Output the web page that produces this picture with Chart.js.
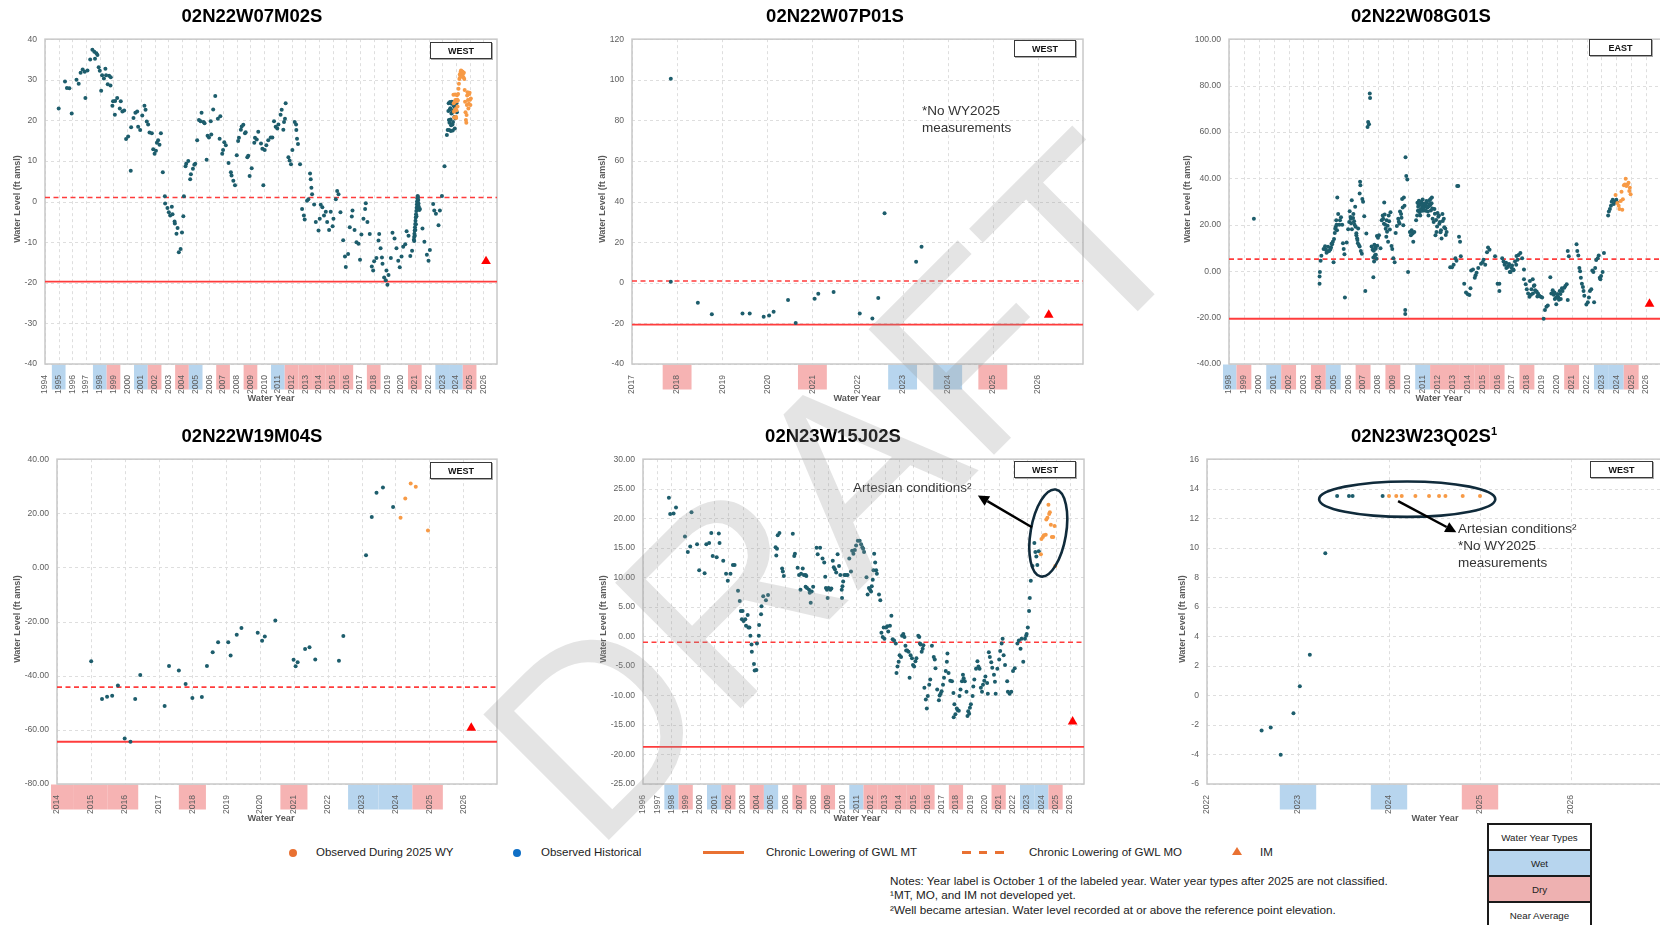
<!DOCTYPE html>
<html><head><meta charset="utf-8">
<script src="https://cdn.jsdelivr.net/npm/chart.js@4.4.1/dist/chart.umd.min.js"></script>
<style>
html,body{margin:0;padding:0;width:1660px;height:925px;overflow:hidden;background:#fff;font-family:"Liberation Sans",Arial,sans-serif;}
canvas{position:absolute;}
.t{position:absolute;white-space:nowrap;}
.title{font-weight:bold;font-size:18.5px;color:#000;transform:translate(-50%,-50%);}
.ytitle{font-weight:bold;font-size:9px;color:#595959;transform:translate(-50%,-50%) rotate(-90deg);}
.xtitle{font-weight:bold;font-size:9.2px;color:#595959;transform:translate(-50%,-50%);}
.region{position:absolute;border:1.5px solid #383838;box-shadow:1px 1px 0 #a8a8a8;font-weight:bold;font-size:9px;display:flex;align-items:center;justify-content:center;box-sizing:border-box;background:#fff;color:#111;}
.ann{font-size:13.5px;color:#333;transform:translateY(-50%);}
.lg{font-size:11.5px;color:#222;transform:translateY(-50%);}
.note{font-size:11.7px;color:#222;transform:translateY(-50%);}
.cell{position:absolute;box-sizing:border-box;border:2px solid #1a1a1a;display:flex;align-items:center;justify-content:center;font-size:9.75px;color:#222;}
</style></head><body>
<script>
// ---------- water year types ----------
const WET_YEARS = [1995,1998,2001,2005,2011,2023,2024];
const DRY_YEARS = [1999,2002,2004,2007,2009,2012,2013,2014,2015,2016,2018,2021,2025];

// ---------- 02N22W07M02S ----------
const c1XTicks = [1994,1995,1996,1997,1998,1999,2000,2001,2002,2003,2004,2005,2006,2007,2008,2009,2010,2011,2012,2013,2014,2015,2016,2017,2018,2019,2020,2021,2022,2023,2024,2025,2026];
const c1YTicks = [-40,-30,-20,-10,0,10,20,30,40];
const c1MT = -19.7, c1MO = 1.0, c1IM = [2026.2,-14.7];
const c1Hist = [[1995.0,22.9],[1995.46,29.6],[1995.6,28],[1995.78,27.9],[1995.95,21.7],[1996.3,30],[1996.46,29],[1996.6,31.7],[1996.75,32.5],[1996.9,32],[1996.95,25.5],[1997.1,32.3],[1997.3,35],[1997.46,37.4],[1997.6,36.9],[1997.65,35.2],[1997.75,36.5],[1997.83,36.1],[1997.92,33.1],[1998.0,32.2],[1998.1,27.3],[1998.17,31.1],[1998.3,30.3],[1998.41,32.7],[1998.46,31.1],[1998.58,28.9],[1998.68,31],[1998.78,28.6],[1998.8,30.6],[1998.92,23.6],[1998.97,24.7],[1999.1,21.4],[1999.12,24.8],[1999.27,25.5],[1999.46,22.9],[1999.53,24.7],[1999.65,22.2],[1999.78,22.4],[1999.92,15.4],[2000.07,16],[2000.26,7.6],[2000.29,18.3],[2000.46,20.6],[2000.6,21.9],[2000.73,22.2],[2000.8,18.4],[2000.95,17.6],[2001.1,21.2],[2001.26,23.6],[2001.34,22.6],[2001.43,19.7],[2001.53,19],[2001.63,17],[2001.8,16.8],[2001.9,12.9],[2002.0,11.8],[2002.1,12.5],[2002.17,14.5],[2002.26,15.1],[2002.36,14],[2002.46,16.8],[2002.6,7.2],[2002.75,1.3],[2002.77,-0.5],[2002.94,-1.6],[2003.04,-2.6],[2003.14,-3.4],[2003.26,-1.3],[2003.31,-3.1],[2003.46,-4.9],[2003.48,-5.4],[2003.6,-7.9],[2003.68,-6.5],[2003.77,-12.5],[2003.9,-11.7],[2004.0,-7.6],[2004.1,-3.6],[2004.14,1.3],[2004.26,8.7],[2004.31,9.3],[2004.46,10],[2004.6,5.5],[2004.65,6.7],[2004.8,8.1],[2004.9,9.1],[2004.97,9.3],[2005.11,15.1],[2005.24,20.1],[2005.36,19.8],[2005.43,21.9],[2005.58,19.6],[2005.65,19.3],[2005.8,10.3],[2005.87,16.2],[2005.97,15.8],[2006.1,19.8],[2006.14,16.5],[2006.28,22.7],[2006.43,26],[2006.62,20.4],[2006.8,21],[2006.75,15.5],[2006.94,11.8],[2007.0,12.7],[2007.09,14.6],[2007.2,13.9],[2007.4,9.5],[2007.57,7.2],[2007.62,6.4],[2007.75,5.1],[2007.87,4],[2008.0,11.4],[2008.1,14.9],[2008.16,15.7],[2008.3,17.7],[2008.36,18.5],[2008.48,18.9],[2008.6,16.8],[2008.65,17.1],[2008.77,10.9],[2008.84,11.3],[2008.94,6.3],[2009.09,8.2],[2009.28,14.5],[2009.33,15.7],[2009.46,15.3],[2009.57,17.2],[2009.77,14.3],[2009.87,13],[2009.94,4],[2010.04,12.7],[2010.16,13.9],[2010.3,15.1],[2010.48,15.8],[2010.6,15.8],[2010.72,19.8],[2010.84,18.4],[2010.96,18],[2011.04,19],[2011.2,21.4],[2011.28,22.6],[2011.4,17.7],[2011.45,19.6],[2011.52,20.4],[2011.57,24.2],[2011.77,10.9],[2011.86,10.1],[2011.96,9.2],[2012.06,12.7],[2012.23,19.6],[2012.33,19],[2012.35,17.6],[2012.4,15.5],[2012.47,14.2],[2012.62,9.2],[2012.77,-1.8],[2012.9,-3.4],[2012.96,-4.4],[2013.13,0.2],[2013.23,0.6],[2013.35,6.9],[2013.4,5.5],[2013.45,3.4],[2013.5,1.8],[2013.65,-0.7],[2013.77,-5],[2013.97,-7.1],[2014.06,-4.2],[2014.13,-0.8],[2014.25,-1.4],[2014.37,-3.4],[2014.5,-2.5],[2014.6,-5],[2014.74,-7],[2014.86,-2.5],[2015.0,-6.1],[2015.06,-4.2],[2015.23,0.6],[2015.33,2.6],[2015.43,1.8],[2015.57,-2.6],[2015.77,-9.5],[2015.9,-13.5],[2015.96,-16.1],[2016.13,-12.9],[2016.25,-6.3],[2016.4,-3.7],[2016.45,-2.2],[2016.6,-7],[2016.74,-10],[2016.89,-10.4],[2017.0,-14.3],[2017.1,-8.1],[2017.25,-4.2],[2017.37,-1.8],[2017.42,-0.4],[2017.54,-5],[2017.71,-8],[2017.86,-16],[2017.96,-17],[2018.03,-14.7],[2018.2,-13.9],[2018.35,-9.6],[2018.4,-8],[2018.5,-11.5],[2018.6,-13.8],[2018.64,-15.3],[2018.76,-18.7],[2018.88,-19.4],[2019.0,-20.5],[2018.93,-17],[2019.08,-18.1],[2019.25,-13.9],[2019.37,-7.7],[2019.52,-9.1],[2019.66,-11.5],[2019.79,-14.6],[2019.9,-16.2],[2020.03,-13.5],[2020.15,-11.1],[2020.3,-10.5],[2020.4,-7.3],[2020.54,-8.4],[2020.67,-13.4],[2020.8,-12.1],
[2020.93,-9.4],[2020.95,-8.7],[2020.96,-9.7],[2020.97,-7.9],[2020.99,-7.1],[2021.0,-8.4],[2021.01,-6.3],[2021.03,-5.5],[2021.04,-7.0],[2021.05,-4.7],[2021.07,-3.9],[2021.08,-5.6],[2021.09,-3.1],[2021.11,-2.3],[2021.12,-3.6],[2021.13,-1.5],[2021.15,-0.7],[2021.16,-1.6],[2021.17,0.1],[2021.19,0.8],[2021.2,-0.2],[2021.21,1.4],[2021.23,1.1],[2021.25,0.4],[2021.27,-0.5],[2021.29,-1.3],[2021.31,-1.9],[2021.33,-2.1],
[2021.37,-1.8],[2021.56,-6.6],[2021.7,-9.9],[2021.88,-13.1],[2022.0,-14.6],[2022.1,-11.9],[2022.34,-0.6],[2022.42,-2.2],[2022.54,-3],[2022.73,-5.8],[2022.83,-2.2],[2022.98,1.4],[2023.17,8.7],[2023.34,16.4],[2023.4,17.6],
[2023.45,22.3],[2023.47,24.2],[2023.49,20.1],[2023.51,17.6],[2023.53,19.4],[2023.55,22.6],[2023.57,24.5],[2023.59,23.0],[2023.61,20.2],[2023.63,17.4],[2023.65,18.8],[2023.67,21.7],[2023.69,24.1],[2023.71,24.6],[2023.73,21.9],[2023.75,19.0],[2023.77,17.5],[2023.79,19.6],[2023.81,22.5],[2023.83,24.4],[2023.86,23.5],[2023.89,20.8],[2023.92,18.0],[2023.95,20.5],[2023.98,23.3],[2024.01,24.9],[2024.04,24.2],[2024.07,22.0]];
const c1Cur = [[2023.82,26.3],[2023.84,24.2],[2023.86,22.1],[2023.88,20.7],[2023.9,22.4],[2023.92,24.6],[2023.94,26.4],[2023.96,25.0],[2023.98,22.8],[2024.0,20.9],[2024.02,20.6],[2024.04,22.5],[2024.06,24.7],[2024.08,26.2],[2024.1,25.1],[2024.12,23.4],[2024.14,24.9],[2024.16,26.5],[2024.19,27.8],[2024.22,29.0],[2024.25,30.2],[2024.28,31.3],[2024.31,30.6],[2024.34,31.9],[2024.37,32.3],[2024.4,31.6],[2024.43,32.1],[2024.46,31.2],[2024.49,32.0],[2024.52,31.5],[2024.55,30.6],[2024.58,31.7],[2024.61,30.2],[2024.64,27.5],[2024.67,24.6],[2024.7,22.0],[2024.73,20.1],[2024.76,19.4],[2024.78,21.3],[2024.8,23.8],[2024.82,26.1],[2024.85,26.9],[2024.88,25.0],[2024.91,22.9],[2024.94,24.1],[2024.97,26.5],[2025.0,26.8],[2025.03,25.1],[2025.06,23.8],[2025.09,25.4]];

// ---------- 02N22W07P01S ----------
const c2XTicks = [2017,2018,2019,2020,2021,2022,2023,2024,2025,2026];
const c2YTicks = [-40,-20,0,20,40,60,80,100,120];
const c2MT = -20.6, c2MO = 0.9, c2IM = [2026.24,-15.8];
const c2Hist = [[2017.86,100.5],[2017.86,0.5],[2018.46,-9.8],[2018.77,-15.5],[2019.45,-15.1],[2019.61,-15.1],[2019.92,-16.7],[2020.04,-16.1],[2020.14,-14.3],[2020.46,-8.5],[2020.63,-19.8],[2021.05,-7.9],[2021.13,-5.4],[2021.47,-4.5],[2022.05,-15.1],[2022.33,-17.6],[2022.46,-7.5],[2022.6,34.3],[2023.3,10.4],[2023.42,17.8]];
const c2Cur = [];

// ---------- 02N22W08G01S ----------
const c3XTicks = [1998,1999,2000,2001,2002,2003,2004,2005,2006,2007,2008,2009,2010,2011,2012,2013,2014,2015,2016,2017,2018,2019,2020,2021,2022,2023,2024,2025,2026];
const c3YTicks = [-40,-20,0,20,40,60,80,100];
const c3MT = -20.5, c3MO = 5.2, c3IM = [2026.23,-14.1];
const c3Hist = [[1999.67,22.6],[2004.08,-5.4],[2004.08,-2.3],[2004.1,-0.4],[2004.15,4.5],[2004.2,6.6],[2004.35,9.6],[2004.5,9.2],[2004.62,8.5],[2004.72,8.7],[2004.85,10.2],[2004.92,11.6],[2004.97,12.7],[2005.02,3.9],[2005.1,16.5],[2005.17,19.1],[2005.22,20],[2005.27,31.8],[2005.33,24.7],[2005.4,20],[2005.45,21.9],[2005.52,23.3],[2005.6,20],[2005.65,12],[2005.7,9.6],[2005.75,7.3],[2005.78,-11.3],[2005.9,12.4],[2006.0,18.1],[2006.07,21.2],[2006.18,22.6],[2006.24,30.6],[2006.33,22.9],[2006.43,20],[2006.47,27.8],[2006.55,15.5],[2006.62,13.4],[2006.67,18.4],[2006.72,11.3],[2006.77,10.6],[2006.85,8.7],[2006.92,7.5],[2006.77,33.5],[2006.8,38.6],[2006.82,37],[2006.95,31.1],[2007.0,29.9],[2007.08,23.7],[2007.15,-8.5],[2007.22,16.2],[2007.3,62.1],[2007.34,64.3],[2007.4,63.3],[2007.45,76.6],[2007.47,74.6],[2007.57,10.6],[2007.64,9.2],[2007.69,5.9],[2007.69,-2.6],[2007.74,4.2],[2007.81,10.2],[2007.86,7.1],[2007.93,15.2],[2008.0,14.4],[2008.07,15.5],[2008.17,9.9],
[2004.45,10.8],[2004.55,8.0],[2004.65,10.5],[2004.8,9.4],[2004.88,11.8],[2005.05,13.9],[2005.13,18.3],[2005.2,22.0],[2005.25,17.6],
[2006.1,25.8],[2006.15,23.4],[2006.2,20.7],[2006.25,18.1],[2006.35,24.6],[2006.4,21.5],[2006.5,19.2],[2006.55,16.4],[2006.6,14.2],[2006.65,12.0],
[2007.72,8.8],[2007.76,11.4],[2007.8,6.9],[2007.85,9.7],[2007.9,5.4],[2007.95,11.0],
[2008.25,21.9],[2008.32,24],[2008.42,29.6],[2008.49,20],[2008.56,14.8],[2008.61,17],[2008.68,12.7],[2008.72,24],[2008.84,25.4],[2008.91,10.9],[2008.96,9.6],[2009.03,5.6],[2009.12,3.8],[2009.19,16.5],[2009.27,19.5],[2009.36,22.6],[2009.45,20.5],[2009.55,24.7],[2009.62,31.1],[2009.74,31.8],[2009.78,28.2],[2009.83,-16.7],[2009.83,-18.4],[2009.85,49.1],[2009.9,41],[2009.97,39.5],[2010.02,-0.3],
[2008.35,22.6],[2008.4,20.4],[2008.45,24.4],[2008.52,18.3],[2008.58,22.0],[2008.65,19.6],[2008.75,21.5],[2008.8,18.0],
[2009.4,21.3],[2009.48,25.7],[2009.58,23.0],[2009.66,27.4],[2009.7,19.8],
[2010.14,16.9],[2010.21,15.5],[2010.26,17.6],[2010.33,16.2],[2010.37,12.7],[2010.44,16.9],[2010.56,21.9],[2010.63,24],[2010.68,26.1],[2010.73,28.5],[2010.8,25.4],[2010.84,24],[2010.92,29.6],[2010.96,27.5],[2011.01,26.1],[2011.08,29],[2011.15,28],[2011.2,26.1],[2011.27,29.6],[2011.32,27.5],[2011.39,24],[2011.46,29],[2011.53,31.1],[2011.62,31.8],[2011.67,22.6],[2011.74,21.2],[2011.79,26.8],[2011.86,15.5],[2011.93,16.9],[2012.0,25.1],[2012.09,24],[2012.16,21.2],[2012.23,17.6],[2012.33,24.7],[2012.42,22.6],[2012.52,18.4],[2012.61,16.9],
[2010.65,29.5],[2010.7,27.8],[2010.75,30.4],[2010.8,28.9],[2010.85,26.5],[2010.9,29.8],[2010.95,28.3],[2011.0,30.9],[2011.05,27.2],[2011.1,29.1],[2011.15,26.4],[2011.2,28.6],[2011.25,30.2],[2011.3,28.0],[2011.35,25.7],[2011.4,27.9],[2011.45,30.6],[2011.5,28.4],[2011.55,26.2],[2011.6,29.3],[2011.65,27.0],
[2011.82,24.8],[2011.9,22.1],[2011.97,19.3],[2012.05,23.5],[2012.12,20.4],[2012.2,16.8],[2012.27,14.1],[2012.35,21.6],[2012.45,18.9],[2012.55,15.6],
[2012.85,1.7],[2012.97,1.7],[2013.08,2.8],[2013.2,5.6],[2013.27,4.5],[2013.32,36.7],[2013.39,36.7],[2013.44,14.8],[2013.51,12.7],[2013.56,6.4],
[2013.79,-5.4],[2013.91,-9.2],[2014.03,-9.9],[2014.14,-10.3],[2014.21,-7.4],[2014.26,0.3],[2014.38,0.7],[2014.5,-2.8],[2014.55,-1.7],[2014.62,-0.7],[2014.73,1.4],[2014.92,3.2],[2015.02,3.9],[2015.09,4.9],[2015.2,2.8],[2015.32,8.2],[2015.39,10.2],[2015.49,9.2],[2015.86,6.4],[2016.03,-5.4],[2016.15,-5.4],[2016.15,-8.5],[2016.34,5.6],[2016.43,4.2],[2016.5,2.8],[2016.62,1.4],[2016.74,2.1],[2016.85,-0.3],[2016.97,1.4],[2017.09,0.7],[2017.28,2.8],[2017.37,4.9],[2017.44,7],[2017.56,7.8],[2017.68,5.6],[2017.8,0.7],
[2016.6,3.6],[2016.7,1.8],[2016.8,3.1],[2016.9,-0.4],[2017.0,2.5],[2017.1,0.4],[2017.2,4.2],[2017.3,6.5],
[2017.8,-3.5],[2017.92,-5.6],[2017.99,-7.8],[2018.08,-9.6],[2018.17,-11],[2018.27,-10.2],[2018.39,-3.5],[2018.46,-6.4],[2018.55,-8.2],[2018.65,-8.8],[2018.74,-9.6],[2018.83,-10.6],[2018.93,-11],[2019.02,-11.3],[2019.12,-20.5],[2019.21,-16.7],[2019.31,-15.3],[2019.4,-14.8],
[2018.2,-4.2],[2018.3,-7.8],[2018.4,-9.6],[2018.5,-6.1],[2018.6,-8.9],[2018.7,-10.9],
[2019.57,-2.6],[2019.64,-9.6],[2019.73,-8.2],[2019.8,-10.2],[2019.87,-12],[2019.97,-14.2],[2020.04,-9.9],[2020.11,-11.3],[2020.2,-8.5],[2020.27,-12],[2020.39,-8.5],[2020.51,-7.1],[2020.58,-6.4],[2020.67,-5.6],[2020.74,-12.4],[2020.74,8.7],[2020.81,6.4],
[2019.85,-9.2],[2019.95,-11.4],[2020.05,-10.1],[2020.15,-12.3],[2020.25,-9.8],[2020.35,-7.4],
[2021.33,11.6],[2021.38,8.7],[2021.45,6.8],[2021.52,1.4],[2021.57,0],[2021.62,-2.8],[2021.69,-5.4],[2021.76,-6.8],[2021.8,-8.5],[2021.85,-10.6],[2021.99,-14.4],[2022.09,-13.4],[2022.16,-11.3],[2022.23,-8.5],[2022.32,-7.8],[2022.39,0.3],[2022.51,-13.4],[2022.46,-0.3],[2022.58,1.4],[2022.65,4.8],[2022.75,5.6],[2022.82,6.8],[2022.89,-2.8],[2022.93,-3.5],[2022.98,-2.1],[2023.08,-0.3],[2023.17,7.8],
[2023.45,24],[2023.5,25.7],[2023.57,26.8],[2023.64,28.2],[2023.69,29.9],[2023.76,30.8],[2023.83,29],[2023.92,29.9],[2024.0,30.8],[2024.07,29.6]];
const c3Cur = [[2023.95,32.8],[2024.07,29.4],[2024.16,28.2],[2024.21,26.8],[2024.3,30.2],[2024.35,34.2],[2024.4,26.5],[2024.44,31],[2024.51,37],[2024.58,37.4],[2024.63,39.8],[2024.68,36.7],[2024.75,37.4],[2024.82,38.1],[2024.87,34.6],[2024.91,36],[2024.96,33.2]];

// ---------- 02N22W19M04S ----------
const c4XTicks = [2014,2015,2016,2017,2018,2019,2020,2021,2022,2023,2024,2025,2026];
const c4YTicks = [-80,-60,-40,-20,0,20,40];
const c4MT = -64.4, c4MO = -44.2, c4IM = [2026.24,-59.3];
const c4Hist = [[2015.01,-34.7],[2015.33,-48.6],[2015.48,-47.8],[2015.63,-47.4],[2015.8,-43.6],[2016.0,-63.2],[2016.17,-64.4],[2016.31,-48.6],[2016.46,-39.7],[2017.18,-51.2],[2017.31,-36.4],[2017.6,-38.1],[2017.8,-43.1],[2018.0,-48.2],[2018.28,-47.9],[2018.43,-36.4],[2018.6,-31.3],[2018.76,-27.6],[2019.06,-27.6],[2019.13,-32.5],[2019.31,-24.9],[2019.45,-22.4],[2019.93,-24.1],[2020.06,-27.1],[2020.14,-25.5],[2020.45,-19.6],[2020.99,-34.1],[2021.05,-36.5],[2021.11,-35],[2021.33,-30.1],[2021.46,-29.5],[2021.63,-34],[2022.33,-34.5],[2022.46,-25.3],[2023.13,4.5],[2023.3,18.6],[2023.44,27.6],[2023.63,29.5],[2023.93,22.3]];
const c4Cur = [[2024.15,18.4],[2024.29,25.5],[2024.45,31],[2024.6,29.8],[2024.96,13.6]];

// ---------- 02N23W15J02S ----------
const c5XTicks = [1996,1997,1998,1999,2000,2001,2002,2003,2004,2005,2006,2007,2008,2009,2010,2011,2012,2013,2014,2015,2016,2017,2018,2019,2020,2021,2022,2023,2024,2025,2026];
const c5YTicks = [-25,-20,-15,-10,-5,0,5,10,15,20,25,30];
const c5MT = -18.7, c5MO = -1.0, c5IM = [2026.2,-14.45];
const c5Hist = [[1997.82,23.45],[1997.91,20.7],[1998.15,20.8],[1998.32,21.8],[1999.41,21],[1998.95,16.9],[1999.15,14.3],[1999.32,15.2],[1999.8,15.6],[1999.95,11.2],[2000.33,10.7],[2000.45,15.6],[2000.65,15.8],[2000.8,17.5],[2000.9,13.6],[2001.18,13.4],[2001.33,17.4],[2001.38,15.8],[2001.64,12.8],[2001.84,10.6],[2001.96,9.4],[2002.15,10.6],[2002.32,12.1],[2002.44,12.1],[2002.68,7.7],[2002.8,6],[2002.88,4.3],[2003.0,4.3],[2002.95,2.9],[2003.07,2.6],[2003.19,2.9],[2003.24,1.8],[2003.36,3.6],[2003.41,1.5],[2003.48,1.5],[2003.55,0.1],[2003.63,-1.4],[2003.65,-2.6],[2003.8,-4.7],[2003.85,-5.8],[2003.97,-5.7],[2004.01,-1.2],[2004.14,0.1],[2004.16,1.9],[2004.3,3.75],[2004.33,5.1],[2004.45,6.8],[2004.64,6.1],[2004.79,7],[2005.32,15.1],[2005.37,13.7],[2005.42,14.85],[2005.47,17.1],[2005.59,17.5],[2005.78,11.5],[2005.83,11],[2005.9,10.2],[2006.53,17.35],[2006.63,13.6],[2006.68,14],[2006.87,11.6],[2006.97,10.4],[2007.07,7.9],[2007.11,10.6],
[2007.23,11.5],[2007.31,10.4],[2007.43,10.4],[2007.43,8.4],[2007.48,10.2],[2007.53,8.2],[2007.67,7.9],[2007.72,7.4],[2007.79,5.7],[2007.86,7.6],[2007.96,8.4],[2008.2,15],[2008.28,13.9],[2008.45,15],[2008.62,13.2],[2008.74,12.5],[2008.81,10.1],[2008.86,8.2],[2008.93,7.9],[2008.98,6.5],[2009.05,8.2],[2009.17,7.9],[2009.24,8.1],
[2009.34,12.8],[2009.41,11.7],[2009.49,11.35],[2009.58,10.8],[2009.68,13.9],[2009.78,11.9],[2009.87,10.4],[2009.97,7.9],[2009.99,6.5],[2010.02,8.5],[2010.07,9.3],[2010.16,10.4],[2010.26,10.4],[2010.38,10.4],[2010.5,13.2],[2010.62,11],[2010.7,14.5],[2010.79,14],[2010.89,14.6],[2010.98,15.4],[2011.1,16.2],[2011.23,16.2],[2011.33,15.6],[2011.42,15.1],[2011.47,14.85],[2011.54,14.3],[2011.71,10],[2011.79,7.1],[2011.88,8.2],[2011.96,7.9],[2012.03,7.6],[2012.08,8.5],[2012.15,9.6],[2012.2,11.2],[2012.25,14],[2012.32,12.5],[2012.39,11.2],[2012.44,10.6],[2012.59,7.1],[2012.68,6.1],[2012.76,0.6],[2012.85,-0.1],[2012.92,1.5],[2012.97,-0.4],[2013.09,1.5],[2013.17,1.7],[2013.24,0.8],[2013.36,1.8],[2013.46,3.5],[2013.55,-0.5],[2013.65,-0.7],[2013.77,-1.2],[2013.82,-6.2],[2013.89,-5.1],[2013.97,-4.3],[2014.04,-3.2],[2014.14,-3.5],[2014.21,0.1],[2014.3,0.4],[2014.38,-0.1],[2014.45,-1.6],[2014.5,-2.4],[2014.57,-2.4],[2014.67,-2.6],[2014.74,-7],[2014.81,-3.2],[2014.91,-3.7],[2014.98,-4.85],[2015.06,-5.1],[2015.15,-4.2],[2015.22,-3.7],[2015.35,0.1],[2015.42,-0.1],[2015.47,-1.2],[2015.52,-1.4],[2015.59,-2.6],[2015.66,-2.1],[2015.71,-1.5],[2015.78,-8.7],[2015.88,-10.7],[2015.95,-12.2],[2016.02,-10.1],[2016.12,-8.2],[2016.19,-7.3],[2016.31,-1.6],[2016.44,-3.5],[2016.51,-3.9],[2016.56,-5.4],[2016.68,-9],[2016.8,-10.8],[2016.85,-10],[2016.92,-9.7],[2016.99,-9.3],[2017.09,-8.2],[2017.16,-7],[2017.28,-5.85],[2017.36,-4.3],[2017.4,-2.9],[2017.48,-6.2],[2017.6,-7.5],[2017.72,-7.6],[2017.82,-9.6],[2017.84,-13.7],[2017.89,-11.5],[2017.96,-13.2],[2018.06,-12.2],[2018.13,-12.5],[2018.2,-12.6],[2018.25,-10.1],[2018.32,-9],[2018.42,-7.6],[2018.49,-6.5],[2018.54,-7.1],[2018.62,-7.6],[2018.74,-9.4],[2018.81,-13.5],[2018.86,-12.7],[2018.93,-13.1],[2018.98,-12.1],[2019.05,-11.5],[2019.17,-10.1],[2019.22,-8.5],[2019.29,-7.3],[2019.41,-5.5],[2019.51,-4.2],[2019.58,-5.1],[2019.66,-5.5],[2019.75,-8.7],[2019.83,-9.4],[2019.9,-8.2],[2019.99,-7.5],[2020.07,-6.8],[2020.19,-7.9],[2020.24,-9.7],[2020.31,-2.7],[2020.38,-3.5],[2020.48,-4.4],[2020.55,-5.3],[2020.67,-6.5],[2020.74,-7.7],[2020.79,-9.7],[2020.91,-5.5],[2021.04,-3.9],[2021.11,-2.5],[2021.21,-1.2],[2021.28,-0.4],[2021.35,-3.2],[2021.45,-4.85],[2021.6,-7.6],[2021.65,-9.4],[2021.77,-9.7],[2021.89,-9.4],[2022.01,-5.85],[2022.13,-5.4],[2022.32,-1.2],[2022.42,-0.7],[2022.54,-2.1],[2022.61,-0.4],[2022.73,-4.3],[2022.85,-0.4],[2022.93,0.1],[2022.97,0.4],[2023.05,1.5],[2023.14,4.3],[2023.19,6.5],[2023.26,9.4],[2023.38,11.9],[2023.51,15.8],[2023.58,14.3],[2023.65,13.5],[2023.72,12.1],[2023.82,14.4]];
const c5Cur = [[2023.97,13.9],[2024.01,16.5],[2024.11,16.8],[2024.18,17.1],[2024.31,17.2],[2024.35,19.8],[2024.43,20.1],[2024.5,22.3],[2024.55,20.7],[2024.6,21],[2024.67,18.9],[2024.74,16.8],[2024.84,16.8],[2024.93,18.7],[2024.98,11.9]];

// ---------- 02N23W23Q02S ----------
const c6XTicks = [2022,2023,2024,2025,2026];
const c6YTicks = [-6,-4,-2,0,2,4,6,8,10,12,14,16];
const c6Hist = [[2022.6,-2.38],[2022.7,-2.18],[2022.81,-4.02],[2022.95,-1.2],[2023.02,0.62],[2023.13,2.75],[2023.3,9.63],[2023.43,13.5],[2023.56,13.5],[2023.6,13.5],[2023.93,13.5]];
const c6Cur = [[2024.0,13.5],[2024.08,13.5],[2024.14,13.5],[2024.29,13.5],[2024.44,13.5],[2024.55,13.5],[2024.62,13.5],[2024.81,13.5],[2025.0,13.5]];

// ---------- rendering ----------
const FONT = "'Liberation Sans', Arial, sans-serif";
const WET_COLOR = '#b7d5ee', DRY_COLOR = '#f6b3b3';
const HIST_COLOR = '#1d5d6c', CUR_COLOR = '#f79a46';

function drawArrow(ctx,x1,y1,x2,y2){
  const ang=Math.atan2(y2-y1,x2-x1), hl=11, hw=5.5;
  const bx=x2-hl*Math.cos(ang), by=y2-hl*Math.sin(ang);
  ctx.beginPath(); ctx.moveTo(x1,y1); ctx.lineTo(bx,by); ctx.stroke();
  ctx.beginPath(); ctx.moveTo(x2,y2);
  ctx.lineTo(bx+hw*Math.sin(ang), by-hw*Math.cos(ang));
  ctx.lineTo(bx-hw*Math.sin(ang), by+hw*Math.cos(ang));
  ctx.closePath(); ctx.fill();
}

function makePlugin(cfg){
  const has = y => WET_YEARS.includes(y) || DRY_YEARS.includes(y);
  return {
    id:'wy'+cfg.id,
    beforeDraw(chart){
      const ctx=chart.ctx, xs=chart.scales.x, a=chart.chartArea;
      ctx.save();
      cfg.xTicks.forEach(y=>{
        const wet=WET_YEARS.includes(y), dry=DRY_YEARS.includes(y);
        if(!wet && !dry) return;
        let hl=cfg.bandHW, hr=cfg.bandHW;
        if(cfg.merge){ if(has(y-1)) hl=0.5; if(has(y+1)) hr=0.5; }
        let x0=xs.getPixelForValue(y-hl), x1=xs.getPixelForValue(y+hr);
        x0=Math.max(x0,a.left-6); x1=Math.min(x1,a.right+6);
        ctx.fillStyle = wet ? WET_COLOR : DRY_COLOR;
        ctx.fillRect(x0, a.bottom+0.5, x1-x0, 25);
      });
      ctx.restore();
    },
    beforeDatasetsDraw(chart){
      const ctx=chart.ctx, xs=chart.scales.x, ys=chart.scales.y, a=chart.chartArea;
      ctx.save();
      ctx.strokeStyle='#dedede'; ctx.lineWidth=1; ctx.setLineDash([3,3]);
      cfg.xTicks.forEach(v=>{
        const px=Math.round(xs.getPixelForValue(v))+0.5;
        ctx.beginPath(); ctx.moveTo(px,a.top); ctx.lineTo(px,a.bottom); ctx.stroke();
      });
      cfg.yTicks.forEach(v=>{
        const py=Math.round(ys.getPixelForValue(v))+0.5;
        ctx.beginPath(); ctx.moveTo(a.left,py); ctx.lineTo(a.right,py); ctx.stroke();
      });
      ctx.setLineDash([]);
      ctx.strokeStyle='#c8c8c8'; ctx.lineWidth=1.5;
      ctx.strokeRect(a.left,a.top,a.right-a.left,a.bottom-a.top);
      ctx.restore();
    },
    afterDatasetsDraw(chart){
      const ctx=chart.ctx, xs=chart.scales.x, ys=chart.scales.y;
      ctx.save();
      if(cfg.ellipse){
        const e=cfg.ellipse;
        const cx=xs.getPixelForValue(e.cx), cy=ys.getPixelForValue(e.cy);
        const rx=Math.abs(xs.getPixelForValue(e.cx+e.rx)-cx), ry=Math.abs(ys.getPixelForValue(e.cy+e.ry)-cy);
        ctx.strokeStyle='#102b3b'; ctx.lineWidth=2.6;
        ctx.beginPath(); ctx.ellipse(cx,cy,rx,ry,e.rot,0,Math.PI*2); ctx.stroke();
      }
      if(cfg.arrow){
        const r=cfg.arrow;
        ctx.strokeStyle='#000'; ctx.fillStyle='#000'; ctx.lineWidth=2.4;
        drawArrow(ctx, xs.getPixelForValue(r[0]), ys.getPixelForValue(r[1]), xs.getPixelForValue(r[2]), ys.getPixelForValue(r[3]));
      }
      ctx.restore();
    }
  };
}

function makeChart(cfg){
  const yw=44, pt=8, pr=12, xh=32;
  const left=cfg.L-yw, top=cfg.T-pt;
  const w=Math.round(cfg.R-cfg.L+yw+pr), h=Math.round(cfg.B-cfg.T+pt+xh);
  const cv=document.createElement('canvas');
  cv.width=w; cv.height=h;
  cv.style.left=left+'px'; cv.style.top=top+'px'; cv.style.width=w+'px'; cv.style.height=h+'px';
  document.getElementById('charts').appendChild(cv);
  const ds=[];
  ds.push({data:cfg.cur.map(p=>({x:p[0],y:p[1]})), backgroundColor:CUR_COLOR, borderWidth:0, pointRadius:2, order:1});
  ds.push({data:cfg.hist.map(p=>({x:p[0],y:p[1]})), backgroundColor:HIST_COLOR, borderWidth:0, pointRadius:2, order:2});
  if(cfg.mt!=null) ds.push({data:[{x:cfg.xmin,y:cfg.mt},{x:cfg.xmax,y:cfg.mt}], showLine:true, borderColor:'#ff3c3c', borderWidth:1.8, pointRadius:0, order:3});
  if(cfg.mo!=null) ds.push({data:[{x:cfg.xmin,y:cfg.mo},{x:cfg.xmax,y:cfg.mo}], showLine:true, borderColor:'#ff3c3c', borderWidth:1.6, borderDash:[5,3.5], pointRadius:0, order:3});
  if(cfg.im) ds.push({data:[{x:cfg.im[0],y:cfg.im[1]}], pointStyle:'triangle', pointRadius:5.6, backgroundColor:'#ff0000', borderWidth:0, order:0});
  new Chart(cv,{
    type:'scatter',
    data:{datasets:ds},
    options:{
      responsive:false, animation:false, devicePixelRatio:1, events:[],
      layout:{padding:{top:pt,right:pr,left:0,bottom:0}},
      plugins:{legend:{display:false}, tooltip:{enabled:false}},
      scales:{
        x:{type:'linear', min:cfg.xmin, max:cfg.xmax,
           afterBuildTicks:s=>{s.ticks=cfg.xTicks.map(v=>({value:v}));},
           afterFit:s=>{s.height=xh;},
           grid:{display:false}, border:{display:false},
           ticks:{autoSkip:false, minRotation:90, maxRotation:90, padding:3, color:'#5e5e5e', font:{size:8.6,family:FONT}, callback:v=>String(v)}},
        y:{type:'linear', min:cfg.ymin, max:cfg.ymax,
           afterBuildTicks:s=>{s.ticks=cfg.yTicks.map(v=>({value:v}));},
           afterFit:s=>{s.width=yw;},
           grid:{display:false, drawTicks:false}, border:{display:false},
           ticks:{padding:8, color:'#5e5e5e', font:{size:8.6,family:FONT}, callback:v=>Number(v).toFixed(cfg.dec)}}
      }
    },
    plugins:[makePlugin(cfg)]
  });
}
</script>
<div id="charts"></div>
<script>
makeChart({id:1,L:45,R:497,T:34,B:364,xmin:1994,xmax:2027,ymin:-40,ymax:40,xTicks:c1XTicks,yTicks:c1YTicks,dec:0,hist:c1Hist,cur:c1Cur,mt:c1MT,mo:c1MO,im:c1IM,bandHW:0.5,merge:false});
makeChart({id:2,L:632,R:1083,T:34,B:364,xmin:2017,xmax:2027,ymin:-40,ymax:120,xTicks:c2XTicks,yTicks:c2YTicks,dec:0,hist:c2Hist,cur:c2Cur,mt:c2MT,mo:c2MO,im:c2IM,bandHW:0.32,merge:false});
makeChart({id:3,L:1229,R:1661,T:34,B:364,xmin:1998,xmax:2027,ymin:-40,ymax:100,xTicks:c3XTicks,yTicks:c3YTicks,dec:2,hist:c3Hist,cur:c3Cur,mt:c3MT,mo:c3MO,im:c3IM,bandHW:0.5,merge:false});
makeChart({id:4,L:57,R:497,T:454,B:784,xmin:2014,xmax:2027,ymin:-80,ymax:40,xTicks:c4XTicks,yTicks:c4YTicks,dec:2,hist:c4Hist,cur:c4Cur,mt:c4MT,mo:c4MO,im:c4IM,bandHW:0.4,merge:true});
makeChart({id:5,L:643,R:1084,T:454,B:784,xmin:1996,xmax:2027,ymin:-25,ymax:30,xTicks:c5XTicks,yTicks:c5YTicks,dec:2,hist:c5Hist,cur:c5Cur,mt:c5MT,mo:c5MO,im:c5IM,bandHW:0.5,merge:false,
  ellipse:{cx:2024.49,cy:17.49,rx:1.245,ry:7.47,rot:0.17}, arrow:[2023.34,18.46,2019.54,23.84]});
makeChart({id:6,L:1206.5,R:1661,T:454,B:784,xmin:2022,xmax:2027,ymin:-6,ymax:16,xTicks:c6XTicks,yTicks:c6YTicks,dec:0,hist:c6Hist,cur:c6Cur,mt:null,mo:null,im:null,bandHW:0.2,merge:false,
  ellipse:{cx:2024.2,cy:13.29,rx:0.968,ry:1.2,rot:0.0}, arrow:[2024.1,13.16,2024.74,11.05]});
</script>

<!-- titles -->
<div class="t title" style="left:252px;top:16px">02N22W07M02S</div>
<div class="t title" style="left:835px;top:16px">02N22W07P01S</div>
<div class="t title" style="left:1421px;top:16px">02N22W08G01S</div>
<div class="t title" style="left:252px;top:436px">02N22W19M04S</div>
<div class="t title" style="left:833px;top:436px">02N23W15J02S</div>
<div class="t title" style="left:1424px;top:436px">02N23W23Q02S<span style="font-size:11px;position:relative;top:-7px">1</span></div>

<!-- axis titles -->
<div class="t ytitle" style="left:17px;top:199px">Water Level (ft amsl)</div>
<div class="t ytitle" style="left:602px;top:199px">Water Level (ft amsl)</div>
<div class="t ytitle" style="left:1187px;top:199px">Water Level (ft amsl)</div>
<div class="t ytitle" style="left:17px;top:619px">Water Level (ft amsl)</div>
<div class="t ytitle" style="left:603px;top:619px">Water Level (ft amsl)</div>
<div class="t ytitle" style="left:1182px;top:619px">Water Level (ft amsl)</div>
<div class="t xtitle" style="left:271px;top:398px">Water Year</div>
<div class="t xtitle" style="left:857px;top:398px">Water Year</div>
<div class="t xtitle" style="left:1439px;top:398px">Water Year</div>
<div class="t xtitle" style="left:271px;top:818px">Water Year</div>
<div class="t xtitle" style="left:857px;top:818px">Water Year</div>
<div class="t xtitle" style="left:1435px;top:818px">Water Year</div>

<!-- region boxes -->
<div class="region" style="left:430px;top:42px;width:62px;height:17px">WEST</div>
<div class="region" style="left:1014px;top:40px;width:62px;height:17px">WEST</div>
<div class="region" style="left:1589px;top:39px;width:63px;height:17px">EAST</div>
<div class="region" style="left:430px;top:462px;width:62px;height:17px">WEST</div>
<div class="region" style="left:1014px;top:461px;width:62px;height:17px">WEST</div>
<div class="region" style="left:1590px;top:461px;width:63px;height:17px">WEST</div>

<!-- annotations -->
<div class="t ann" style="left:922px;top:110px">*No WY2025</div>
<div class="t ann" style="left:922px;top:127px">measurements</div>
<div class="t ann" style="left:853px;top:487px">Artesian conditions²</div>
<div class="t ann" style="left:1458px;top:528px">Artesian conditions²</div>
<div class="t ann" style="left:1458px;top:545px">*No WY2025</div>
<div class="t ann" style="left:1458px;top:562px">measurements</div>

<!-- legend -->
<div style="position:absolute;left:288.5px;top:848.5px;width:8px;height:8px;border-radius:50%;background:#e97132"></div>
<div class="t lg" style="left:316px;top:852px">Observed During 2025 WY</div>
<div style="position:absolute;left:512.5px;top:848.5px;width:8px;height:8px;border-radius:50%;background:#0f6fc6"></div>
<div class="t lg" style="left:541px;top:852px">Observed Historical</div>
<div style="position:absolute;left:703px;top:850.5px;width:41px;height:3px;background:#e97132"></div>
<div class="t lg" style="left:766px;top:852px">Chronic Lowering of GWL MT</div>
<div style="position:absolute;left:962px;top:850.5px;width:8.5px;height:3px;background:#e97132"></div>
<div style="position:absolute;left:978.5px;top:850.5px;width:8.5px;height:3px;background:#e97132"></div>
<div style="position:absolute;left:995px;top:850.5px;width:8.5px;height:3px;background:#e97132"></div>
<div class="t lg" style="left:1029px;top:852px">Chronic Lowering of GWL MO</div>
<div style="position:absolute;left:1231.5px;top:846.5px;width:0;height:0;border-left:5px solid transparent;border-right:5px solid transparent;border-bottom:8px solid #e97132"></div>
<div class="t lg" style="left:1260px;top:852px">IM</div>

<!-- notes -->
<div class="t note" style="left:890px;top:880px">Notes: Year label is October 1 of the labeled year. Water year types after 2025 are not classified.</div>
<div class="t note" style="left:890px;top:894px">¹MT, MO, and IM not developed yet.</div>
<div class="t note" style="left:890px;top:909px">²Well became artesian. Water level recorded at or above the reference point elevation.</div>

<!-- water year types table -->
<div class="cell" style="left:1487px;top:823px;width:105px;height:28px;background:#fff">Water Year Types</div>
<div class="cell" style="left:1487px;top:849px;width:105px;height:28px;background:#b7d5ee">Wet</div>
<div class="cell" style="left:1487px;top:875px;width:105px;height:28px;background:#eeb1b1">Dry</div>
<div class="cell" style="left:1487px;top:901px;width:105px;height:28px;background:#fff">Near Average</div>

<!-- watermark -->
<div style="position:absolute;left:835px;top:488px;transform:translate(-50%,-50%) rotate(-45deg);font-size:258px;line-height:1;color:rgba(150,150,150,0.26);white-space:nowrap;pointer-events:none;font-family:'Liberation Sans',Arial,sans-serif;">DRAFT</div>
</body></html>
